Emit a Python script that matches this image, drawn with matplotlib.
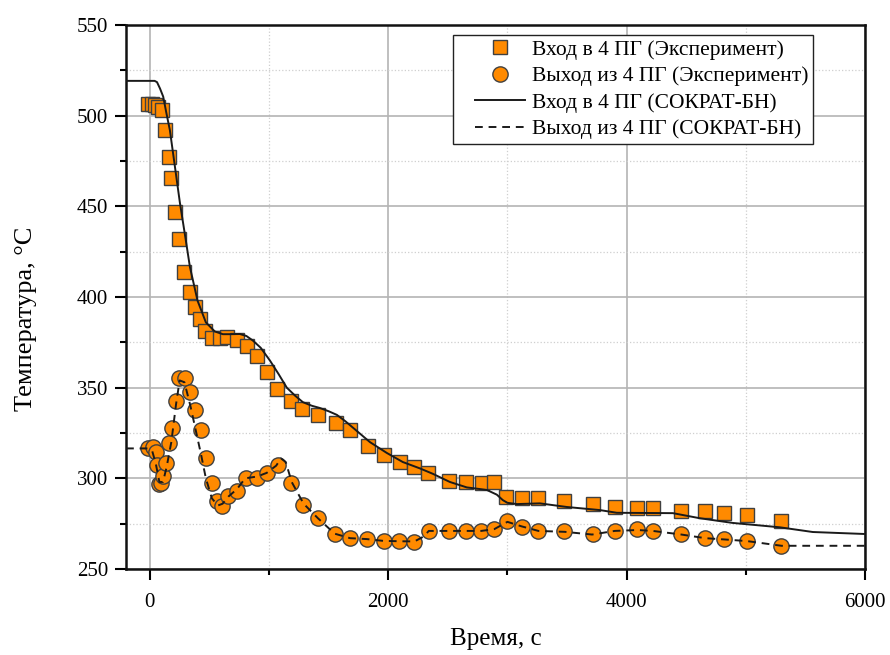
import matplotlib
matplotlib.use('Agg')
import matplotlib.pyplot as plt
from matplotlib.ticker import MultipleLocator
from matplotlib.lines import Line2D
from matplotlib.legend_handler import HandlerLine2D

plt.rcParams['font.family'] = ['Liberation Serif', 'DejaVu Serif']

# Вход в 4 ПГ (эксперимент)
sq_t = [-17, 17, 42, 67, 101, 126, 159, 176, 210, 243, 285, 336, 377, 419, 461, 520, 587,
        646, 730, 814, 898, 982, 1065, 1183, 1275, 1409, 1560, 1678, 1829, 1963, 2100, 2220,
        2334, 2510, 2656, 2787, 2888, 2992, 3123, 3258, 3476, 3714, 3901, 4088, 4222, 4460,
        4656, 4818, 5014, 5299]
sq_T = [506.5, 506.5, 506, 505, 503, 492, 477, 465.7, 447, 432, 414, 403, 394.5, 388, 381.5,
        377.4, 377.4, 377.9, 376.3, 373, 367.4, 358.6, 349.2, 342.6, 338.2, 334.9, 330.5, 326.6,
        317.8, 312.8, 308.9, 306.3, 303.1, 298.7, 298.1, 297.6, 298.1, 289.9, 289.0, 289.0,
        287.5, 285.7, 284.4, 283.5, 283.5, 282.0, 282.0, 280.7, 279.8, 276.5]

# Выход из 4 ПГ (эксперимент)
ci_t = [-14, 28, 50, 56, 78, 90, 107, 134, 162, 182, 216, 243, 294, 336, 378, 428, 470, 518,
        565, 607, 657, 727, 805, 895, 979, 1071, 1180, 1281, 1412, 1552, 1678, 1823, 1966,
        2091, 2217, 2341, 2511, 2656, 2782, 2886, 2998, 3123, 3258, 3476, 3714, 3901, 4088,
        4222, 4460, 4656, 4818, 5014, 5299]
ci_T = [316.6, 317.1, 314.7, 307.4, 296.7, 297.3, 301.5, 308.3, 319.3, 327.9, 342.7, 355.5,
        355.2, 347.8, 337.7, 326.7, 311.1, 297.3, 287.5, 284.9, 290.4, 293.2, 300.4, 300.0,
        302.8, 307.4, 297.6, 285.3, 278.3, 269.3, 266.9, 266.4, 265.4, 265.4, 265.1, 271.0,
        271.0, 271.0, 271.0, 272.1, 276.5, 273.3, 271.1, 271.0, 269.1, 271.0, 271.9, 271.0,
        269.1, 266.9, 266.4, 265.4, 262.7]

# Вход в 4 ПГ (СОКРАТ-БН)
in_t = [-200, 40, 60, 85, 112, 140, 168, 210, 252, 300, 336, 400, 470, 545, 612, 680, 755,
        810, 864, 930, 1007, 1080, 1149, 1220, 1284, 1360, 1426, 1500, 1569, 1640, 1703, 1846,
        1988, 2122, 2265, 2374, 2517, 2659, 2827, 2911, 2961, 3000, 3079, 3272, 3498, 3775,
        3918, 4150, 4388, 4614, 4891, 5285, 5562, 6000]
in_T = [519.2, 519.2, 518.5, 515, 510.5, 501, 492, 472, 452, 432, 416.6, 398, 386, 381, 379.5,
        379.5, 379.6, 378.5, 376, 372, 365, 357.5, 350, 345.5, 342, 340, 338.8, 337, 335, 331.5,
        328, 320, 314, 309, 305.5, 302.5, 298, 295, 293.6, 291, 288, 286.5, 285.8, 286.2, 284.2,
        282.5, 281, 280.9, 280.8, 278, 275.4, 273, 270.4, 269.3]

# Выход из 4 ПГ (СОКРАТ-БН)
out_t = [-200, -20, 20, 50, 80, 110, 140, 180, 220, 250, 290, 340, 380, 430, 470, 520, 570,
         610, 660, 730, 800, 900, 980, 1060, 1100, 1140, 1190, 1290, 1410, 1550, 1680, 1820,
         1960, 2100, 2220, 2300, 2340, 2500, 2650, 2780, 2890, 3000, 3120, 3260, 3480, 3710,
         3900, 4090, 4220, 4460, 4660, 4820, 5010, 5300, 6000]
out_T = [316.5, 316.5, 315, 308, 298, 298, 306, 320, 341, 354, 353, 340, 328, 313, 300, 289,
         285, 286, 290, 294, 300, 301, 303, 307, 311, 309, 298, 286, 278, 269.5, 267, 266.5,
         265.5, 265.3, 265.2, 268, 271, 271, 271, 271, 272, 276, 273.5, 271, 270.5, 269, 271,
         271.5, 271, 269, 267, 266.3, 265.4, 262.8, 262.8]

orange = '#ff8a00'
edge = '#404040'

fig = plt.figure(figsize=(8.9, 6.55), dpi=100)
ax = fig.add_axes([0.1416, 0.1313, 0.8303, 0.8305])

ax.plot(sq_t, sq_T, 's', ms=9.5, mfc=orange, mec=edge, mew=1.0, zorder=3,
        label='Вход в 4 ПГ (Эксперимент)')
ax.plot(ci_t, ci_T, 'o', ms=11, mfc=orange, mec=edge, mew=1.0, zorder=3,
        label='Выход из 4 ПГ (Эксперимент)')
ax.plot(in_t, in_T, '-', color='#1a1a1a', lw=1.4, zorder=4,
        label='Вход в 4 ПГ (СОКРАТ-БН)')
ax.plot(out_t, out_T, '--', color='#1a1a1a', lw=1.4, dashes=(4, 3), zorder=4,
        label='Выход из 4 ПГ (СОКРАТ-БН)')

ax.set_xlim(-200, 6000)
ax.set_ylim(250, 550)
ax.xaxis.set_major_locator(MultipleLocator(2000))
ax.xaxis.set_minor_locator(MultipleLocator(1000))
ax.yaxis.set_major_locator(MultipleLocator(50))
ax.yaxis.set_minor_locator(MultipleLocator(25))

ax.grid(which='major', color='#b4b4b4', lw=1.2, ls='-')
ax.grid(which='minor', color='#cfcfcf', lw=0.9, ls=':')
ax.set_axisbelow(True)

ax.tick_params(which='major', direction='out', length=8, width=1.5, labelsize=15,
               top=False, right=False)
ax.tick_params(which='minor', direction='out', length=4.5, width=1.5, top=False, right=False)
ax.tick_params(axis='x', pad=9)
ax.tick_params(axis='y', pad=5)
for s in ax.spines.values():
    s.set_linewidth(1.8)
    s.set_color('#111111')

ax.set_xlabel('Время, с', fontsize=18)
ax.set_ylabel('Температура, °C', fontsize=19)
ax.xaxis.set_label_coords(0.5, -0.108)
ax.yaxis.set_label_coords(-0.12, 0.46)

leg = ax.legend(loc='upper right', bbox_to_anchor=(0.93, 0.981), fontsize=15.5,
                fancybox=False, framealpha=1, edgecolor='#222222',
                handlelength=3.15, borderpad=0.2, labelspacing=0.3, handletextpad=0.35,
                borderaxespad=0, handler_map={Line2D: HandlerLine2D(xpad=0.85)})
leg.get_frame().set_linewidth(1.0)

fig.savefig('out.png', dpi=100)
